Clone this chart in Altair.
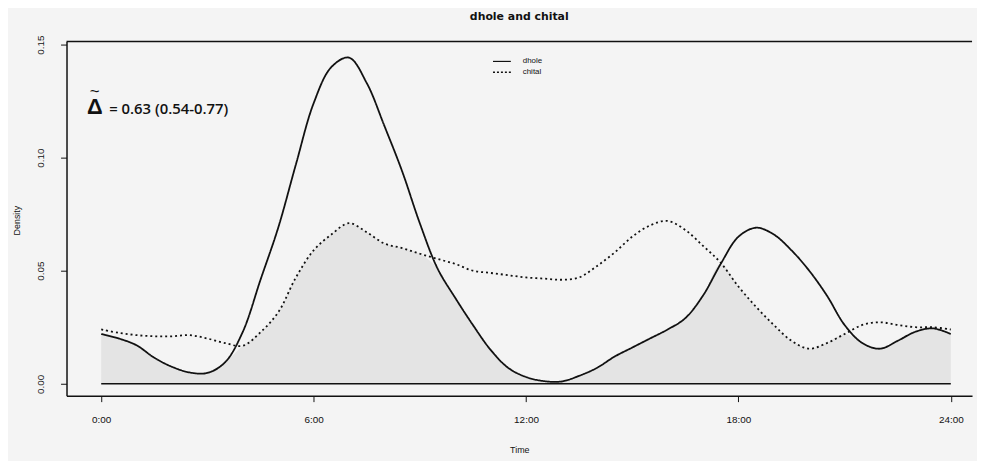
import json
import altair as alt
import pandas as pd

# ---- data ----
time = [0.0, 0.5, 1.0, 1.5, 2.0, 2.5, 3.0, 3.5, 4.0, 4.5, 5.0, 5.5, 6.0, 6.5, 7.0, 7.5,
        8.0, 8.5, 9.0, 9.5, 10.0, 10.5, 11.0, 11.5, 12.0, 12.5, 13.0, 13.5, 14.0, 14.5,
        15.0, 15.5, 16.0, 16.5, 17.0, 17.5, 18.0, 18.5, 19.0, 19.5, 20.0, 20.5, 21.0,
        21.5, 22.0, 22.5, 23.0, 23.5, 24.0]
dhole = [0.022, 0.020, 0.017, 0.0115, 0.0075, 0.005, 0.0048, 0.0095, 0.023, 0.046,
         0.069, 0.097, 0.124, 0.140, 0.1442, 0.133, 0.114, 0.094, 0.071, 0.051, 0.038,
         0.026, 0.015, 0.007, 0.003, 0.0012, 0.001, 0.0035, 0.007, 0.012, 0.016, 0.020,
         0.024, 0.029, 0.039, 0.053, 0.065, 0.069, 0.066, 0.059, 0.050, 0.039, 0.026,
         0.018, 0.0155, 0.019, 0.023, 0.0245, 0.022]
chital = [0.024, 0.0225, 0.0215, 0.021, 0.021, 0.0215, 0.020, 0.018, 0.0168, 0.0228,
          0.0316, 0.047, 0.059, 0.066, 0.071, 0.067, 0.062, 0.060, 0.0575, 0.0552, 0.053,
          0.050, 0.049, 0.048, 0.047, 0.0465, 0.046, 0.047, 0.052, 0.058, 0.065, 0.070,
          0.072, 0.068, 0.061, 0.0535, 0.043, 0.034, 0.026, 0.019, 0.0155, 0.018, 0.022,
          0.026, 0.0272, 0.026, 0.025, 0.025, 0.024]
series = ["dhole", "chital"]
x_ticks = [0, 6, 12, 18, 24]
x_tick_labels = ["0:00", "6:00", "12:00", "18:00", "24:00"]
y_ticks = [0.0, 0.05, 0.10, 0.15]
baseline_start = [0]
baseline_end = [24]
baseline_level = [0]

W, H = 913, 357
INK = "#111111"
CURVE = "catmull-rom"

wide = pd.DataFrame({"time": time, "dhole": dhole, "chital": chital})
base_df = pd.DataFrame({"x": baseline_start, "x2": baseline_end, "y": baseline_level})

label_map = json.dumps({str(v): l for v, l in zip(x_ticks, x_tick_labels)})

xscale = alt.Scale(domain=[-0.98, 24.6], nice=False, zero=False)
yscale = alt.Scale(domain=[-0.00526, 0.1513], nice=False, zero=False)

xaxis = alt.Axis(values=x_ticks, labelExpr=f"{label_map}[toString(datum.value)]",
                 domain=True, domainColor=INK, domainWidth=1.5, ticks=True,
                 tickColor=INK, tickSize=6, tickWidth=1, grid=False,
                 labelFont="Liberation Sans", labelFontSize=10, labelColor=INK,
                 labelBaseline="middle", labelPadding=18,
                 titleFont="Liberation Sans", titleFontSize=9, titleFontWeight="normal",
                 titleColor=INK, titleY=54, titleBaseline="middle")
yaxis = alt.Axis(values=y_ticks, format=".2f", domain=True, domainColor=INK,
                 domainWidth=1.5, ticks=True, tickColor=INK, tickSize=6, tickWidth=1,
                 grid=False, labelFont="Liberation Sans", labelFontSize=10,
                 labelColor=INK, labelAngle=270, labelAlign="center",
                 labelBaseline="middle", labelPadding=20,
                 titleFont="Liberation Sans", titleFontSize=9, titleFontWeight="normal",
                 titleColor=INK, titleX=-50, titleY=180, titleAlign="center",
                 titleBaseline="middle")


def X(field):
    return alt.X(field, type="quantitative", scale=xscale, axis=xaxis, title="Time")


def Y(field):
    return alt.Y(field, type="quantitative", scale=yscale, axis=yaxis, title="Density")


overlap = alt.Chart(wide).transform_calculate(
    overlap="min(datum.dhole, datum.chital)", zero="0"
).mark_area(color="#e4e4e4", interpolate=CURVE).encode(
    x=X("time"), y=Y("overlap"), y2="zero:Q"
)

baseline = alt.Chart(base_df).mark_rule(color=INK, strokeWidth=1.5).encode(
    x=X("x"), x2="x2:Q", y=Y("y")
)

lines = alt.Chart(wide).transform_fold(series, as_=["species", "density"]).mark_line(
    color=INK, strokeWidth=1.8, interpolate=CURVE
).encode(
    x=X("time"), y=Y("density"),
    strokeDash=alt.StrokeDash("species:N", scale=alt.Scale(domain=series, range=[[1, 0], [2, 3]]),
                              legend=None),
    detail="species:N",
)

top_rule = alt.Chart(base_df).mark_rule(color=INK, strokeWidth=1.5).encode(
    x=alt.value(0), x2=alt.value(W), y=alt.value(0)
)

delta = alt.Chart(base_df).mark_text(text="Δ", font="Liberation Sans", fontSize=22,
                                     fontWeight="bold", color=INK, align="center",
                                     baseline="alphabetic").encode(x=alt.value(28.5), y=alt.value(73))
tilde = alt.Chart(base_df).mark_text(text="~", font="Liberation Sans", fontSize=17,
                                     color=INK, align="center",
                                     baseline="middle").encode(x=alt.value(28.5), y=alt.value(51))
ann = alt.Chart(base_df).mark_text(text="= 0.63 (0.54-0.77)", font="Open Sans", fontSize=15,
                                   fontWeight=600, color=INK, align="left",
                                   baseline="alphabetic").encode(x=alt.value(43), y=alt.value(73))

leg1 = alt.Chart(base_df).mark_rule(color=INK, strokeWidth=1.2).encode(
    x=alt.value(430), x2=alt.value(448), y=alt.value(20))
leg2 = alt.Chart(base_df).mark_rule(color=INK, strokeWidth=1.5, strokeDash=[2, 2]).encode(
    x=alt.value(430), x2=alt.value(448), y=alt.value(31))
legt1 = alt.Chart(base_df).mark_text(text=series[0], font="Liberation Sans", fontSize=8,
                                     color=INK, align="left", baseline="middle").encode(
    x=alt.value(460), y=alt.value(20))
legt2 = alt.Chart(base_df).mark_text(text=series[1], font="Liberation Sans", fontSize=8,
                                     color=INK, align="left", baseline="middle").encode(
    x=alt.value(460), y=alt.value(31))

chart = alt.layer(
    overlap, baseline, lines, top_rule, delta, tilde, ann, leg1, leg2, legt1, legt2
).properties(
    width=W, height=H,
    title=alt.TitleParams("dhole and chital", font="DejaVu Sans", fontSize=11,
                          fontWeight="bold", color=INK, anchor="middle", offset=13),
    autosize=alt.AutoSizeParams(type="none"),
    padding={"left": 59, "top": 32, "right": 5, "bottom": 64},
    background="#f4f4f4",
).configure_view(stroke=None)

chart.save("out.html", embed_options={"renderer": "svg", "actions": False})
